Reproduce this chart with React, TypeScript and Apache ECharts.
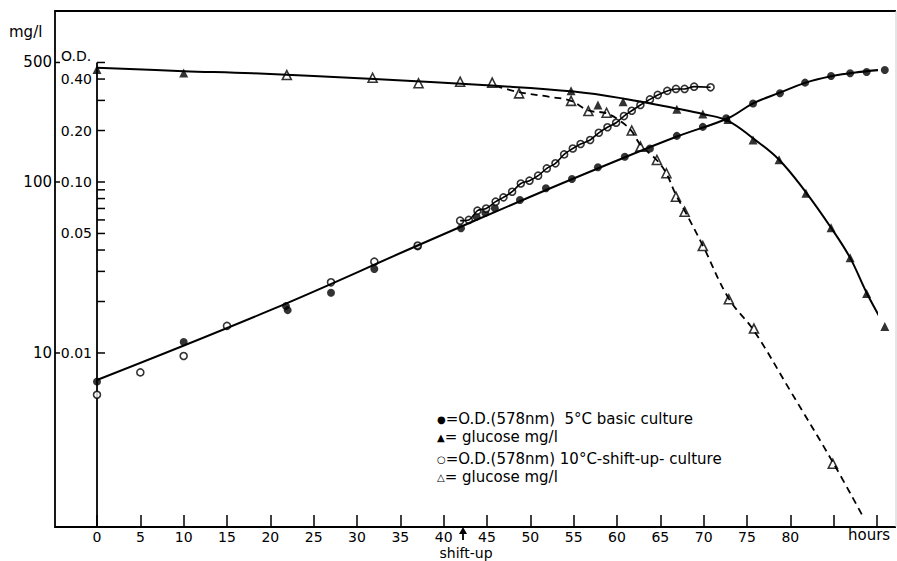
import React, { useEffect, useRef } from "react";
import * as echarts from "echarts";

const FONT = '"DejaVu Sans", "Liberation Sans", sans-serif';

// ---- axes ----
const X_MIN = 0;
const X_MAX = 90;
const X_STEP = 5;
const X_LAST_LABEL = 80;
const MG_MIN = 0.96;
const MG_MAX = 1000;
const OD_MIN = 0.00096;
const OD_MAX = 1;
const OD_TICKS = [0.5, 0.4, 0.3, 0.2, 0.1, 0.09, 0.08, 0.07, 0.06, 0.05, 0.04, 0.03, 0.02, 0.01];
const OD_LABELS = [0.4, 0.2, 0.1, 0.05, 0.01];
const MG_TICKS = [500, 100, 10];

// ---- measured points: [hours, value] ----
// O.D.(578nm) 5°C basic culture (filled circles)
const basicOD: [number, number][] = [
  [0, 0.0068], [10, 0.0116], [21.8, 0.0188], [22, 0.0178], [27, 0.0225], [32, 0.031],
  [37, 0.042], [42, 0.0536], [43.8, 0.0627], [44.8, 0.066], [45.9, 0.0702], [48.8, 0.0785],
  [51.8, 0.0919], [54.8, 0.104], [57.8, 0.122], [60.9, 0.1406], [63.8, 0.157], [66.9, 0.186],
  [69.9, 0.21], [72.6, 0.236], [75.7, 0.288], [78.8, 0.33], [81.7, 0.381], [84.7, 0.417],
  [86.9, 0.432], [88.8, 0.44], [90.9, 0.452],
];
// glucose mg/l, basic culture (filled triangles)
const basicGlucose: [number, number][] = [
  [0, 455], [10, 434], [54.7, 342], [57.8, 282], [60.7, 295], [66.9, 266], [69.9, 250],
  [72.8, 232], [75.7, 176], [78.7, 135], [81.8, 86], [84.7, 54], [86.9, 36], [88.8, 22.3],
  [90.9, 14.3],
];
// O.D.(578nm) 10°C shift-up culture (open circles)
const shiftOD: [number, number][] = [
  [0, 0.0057], [5, 0.0077], [10, 0.0096], [15, 0.0144], [27, 0.0259], [32, 0.0342],
  [37, 0.0425], [41.9, 0.0594], [42.9, 0.06], [43.9, 0.068], [44.9, 0.07], [46, 0.0767],
  [46.9, 0.0813], [47.9, 0.0877], [48.9, 0.098], [49.9, 0.1018], [50.9, 0.1089], [51.9, 0.12],
  [52.9, 0.1286], [53.9, 0.145], [54.9, 0.157], [55.8, 0.1668], [56.9, 0.176], [57.9, 0.194],
  [58.9, 0.209], [59.9, 0.222], [60.8, 0.243], [61.7, 0.261], [62.7, 0.282], [63.8, 0.304],
  [64.7, 0.323], [65.8, 0.341], [66.8, 0.35], [67.8, 0.35], [68.9, 0.361], [70.8, 0.358],
];
// glucose mg/l, shift-up culture (open triangles)
const shiftGlucose: [number, number][] = [
  [21.9, 422], [31.8, 407], [37.1, 378], [41.9, 386], [45.6, 381], [48.7, 330], [54.7, 298],
  [56.7, 260], [58.8, 254], [61.7, 200], [62.7, 161], [64.6, 134.5], [65.7, 112.5], [66.8, 82],
  [67.8, 67], [69.9, 42.2], [72.9, 20.6], [75.8, 13.9], [84.9, 2.25],
];

// ---- drawn curves ----
const basicODCurve: [number, number][] = [
  [0, 0.00695], [20, 0.0178], [37, 0.0425], [50, 0.082], [61, 0.14], [67, 0.185],
  [72.8, 0.236], [75.7, 0.288], [78.8, 0.333], [81.7, 0.38], [84.7, 0.415], [87.5, 0.437],
  [91, 0.455],
];
const basicGlucoseCurve: [number, number][] = [
  [0, 465], [10, 445], [18, 432], [32, 400], [46, 365], [55, 338], [61, 306], [67, 268],
  [70, 249], [72.8, 228], [75.7, 180], [78.7, 135], [81.8, 87], [84.7, 54], [86.9, 36],
  [88.8, 22.5], [90.9, 14.3], [91.8, 11.8],
];
const shiftGlucoseCurve: [number, number][] = [
  [46, 365], [48.7, 335], [52.2, 315], [54.7, 298], [56.7, 262], [58.8, 252], [60.5, 225],
  [61.7, 198], [62.7, 165], [64.6, 134], [65.7, 112], [66.8, 84], [67.8, 68], [69.9, 42.5],
  [72.9, 20.8], [75.8, 13.5], [80, 6.0], [84.9, 2.3], [88.4, 1.1],
];
const SHIFT_CURVE_START = 41.9;

const App: React.FC = () => {
  const ref = useRef<HTMLDivElement>(null);

  useEffect(() => {
    if (!ref.current) return;
    const chart = echarts.init(ref.current, undefined, { renderer: "svg" });
    const black = "#000";
    const lineW = 2;

    const odAxisData = OD_TICKS.map((v) => [0, v, OD_LABELS.includes(v) ? 1 : 0]);
    const mgAxisData = MG_TICKS.map((v) => [0, v]);

    const legendText = (x: number, y: number, text: string) => ({
      type: "text",
      x,
      y,
      style: {
        text,
        rich: { s: { fontSize: 10, lineHeight: 14, fontFamily: FONT, fill: black } },
        fill: black,
        fontSize: 15,
        lineHeight: 14,
        fontFamily: FONT,
        verticalAlign: "middle",
        textVerticalAlign: "middle",
      },
    });

    const option: any = {
      animation: false,
      backgroundColor: "#fff",
      grid: { left: 97, right: 20, top: 11, bottom: 34, containLabel: false, outerBoundsMode: "none" },
      xAxis: {
        type: "value",
        min: X_MIN,
        max: X_MAX,
        interval: X_STEP,
        axisLine: { show: false },
        splitLine: { show: false },
        axisTick: { inside: true, length: 12, lineStyle: { color: black, width: 1.5 } },
        axisLabel: {
          formatter: (v: number) => (v > X_LAST_LABEL ? "" : String(v)),
          color: black,
          fontSize: 14,
          lineHeight: 14,
          fontFamily: FONT,
          margin: 3,
          showMinLabel: true,
          showMaxLabel: true,
        },
      },
      yAxis: [
        { type: "log", min: MG_MIN, max: MG_MAX, show: false },
        { type: "log", min: OD_MIN, max: OD_MAX, show: false },
      ],
      series: [
        {
          type: "line", yAxisIndex: 1, data: basicODCurve, smooth: 0.4, showSymbol: false,
          lineStyle: { color: black, width: lineW }, clip: false, silent: true,
        },
        {
          type: "line", yAxisIndex: 0, data: basicGlucoseCurve, smooth: 0.4, showSymbol: false,
          lineStyle: { color: black, width: lineW }, clip: false, silent: true,
        },
        {
          type: "line", yAxisIndex: 0, data: shiftGlucoseCurve, smooth: 0.4, showSymbol: false,
          lineStyle: { color: black, width: 1.8, type: [7, 5] }, clip: false, silent: true,
        },
        {
          type: "line", yAxisIndex: 1, data: shiftOD.filter((d) => d[0] >= SHIFT_CURVE_START),
          smooth: 0.3, showSymbol: false, lineStyle: { color: black, width: 1.6 }, clip: false, silent: true,
        },
        {
          type: "scatter", yAxisIndex: 1, data: basicOD, symbol: "circle", symbolSize: 8,
          itemStyle: { color: black }, clip: false, silent: true,
        },
        {
          type: "scatter", yAxisIndex: 1, data: shiftOD, symbol: "circle", symbolSize: 7,
          itemStyle: { color: "#fff", borderColor: black, borderWidth: 1.6 }, clip: false, silent: true,
        },
        {
          type: "scatter", yAxisIndex: 0, data: basicGlucose, symbol: "triangle", symbolSize: 9,
          itemStyle: { color: black }, clip: false, silent: true,
        },
        {
          type: "scatter", yAxisIndex: 0, data: shiftGlucose, symbol: "triangle", symbolSize: 9,
          itemStyle: { color: "#fff", borderColor: black, borderWidth: 1.6 }, clip: false, silent: true,
        },
        {
          type: "custom", yAxisIndex: 1, data: odAxisData, silent: true, clip: false,
          renderItem: (params: any, api: any) => {
            const v = api.value(1);
            const p = api.coord([0, v]);
            const children: any[] = [
              { type: "line", shape: { x1: p[0], y1: p[1], x2: p[0] + 8, y2: p[1] }, style: { stroke: black, lineWidth: 1.5 } },
            ];
            if (api.value(2)) {
              children.push({
                type: "text",
                x: p[0] - 5,
                y: p[1],
                style: { text: v.toFixed(2), fill: black, fontSize: 14, fontFamily: FONT, align: "right", verticalAlign: "middle", textAlign: "right", textVerticalAlign: "middle" },
              });
            }
            if (params.dataIndex === 0) {
              children.push({
                type: "line",
                shape: { x1: p[0], y1: p[1], x2: p[0], y2: params.coordSys.y + params.coordSys.height },
                style: { stroke: black, lineWidth: 1.8 },
              });
            }
            return { type: "group", children };
          },
        },
        {
          type: "custom", yAxisIndex: 0, data: mgAxisData, silent: true, clip: false,
          renderItem: (params: any, api: any) => {
            const v = api.value(1);
            const p = api.coord([0, v]);
            const ox = params.coordSys.x - 42;
            return {
              type: "group",
              children: [
                { type: "line", shape: { x1: ox, y1: p[1], x2: ox + 5, y2: p[1] }, style: { stroke: black, lineWidth: 1.5 } },
                {
                  type: "text", x: ox - 3, y: p[1],
                  style: { text: String(v), fill: black, fontSize: 15, fontFamily: FONT, align: "right", verticalAlign: "middle", textAlign: "right", textVerticalAlign: "middle" },
                },
              ],
            };
          },
        },
      ],
      graphic: [
        { type: "polyline", shape: { points: [[896, 11], [55, 11], [55, 527], [896, 527]] }, style: { stroke: black, lineWidth: 1.8, fill: "none" }, silent: true },
        { type: "line", shape: { x1: 896, y1: 11, x2: 896, y2: 527 }, style: { stroke: "#ccc", lineWidth: 1 }, silent: true },
        { type: "text", x: 9, y: 32, style: { text: "mg/l", fill: black, fontSize: 15, fontFamily: FONT, verticalAlign: "middle", textVerticalAlign: "middle" } },
        { type: "text", x: 61, y: 56, style: { text: "O.D.", fill: black, fontSize: 14, fontFamily: FONT, verticalAlign: "middle", textVerticalAlign: "middle" } },
        { type: "text", x: 848, y: 535, style: { text: "hours", fill: black, fontSize: 15, lineHeight: 14, fontFamily: FONT, verticalAlign: "middle", textVerticalAlign: "middle" } },
        { type: "polygon", shape: { points: [[463, 527], [459, 534], [467, 534]] }, style: { fill: black }, silent: true },
        { type: "line", shape: { x1: 463, y1: 532, x2: 463, y2: 540 }, style: { stroke: black, lineWidth: 1.8 }, silent: true },
        { type: "text", x: 466, y: 553, style: { text: "shift-up", fill: black, fontSize: 14, lineHeight: 13, fontFamily: FONT, align: "center", verticalAlign: "middle", textAlign: "center", textVerticalAlign: "middle" } },
        legendText(437, 419, "{s|●}=O.D.(578nm)  5°C basic culture"),
        legendText(437, 437, "{s|▲}= glucose mg/l"),
        legendText(437, 459, "{s|○}=O.D.(578nm) 10°C-shift-up- culture"),
        legendText(437, 477, "{s|△}= glucose mg/l"),
      ],
    };

    chart.setOption(option);
    return () => chart.dispose();
  }, []);

  return (
    <div
      ref={ref}
      style={{ position: "fixed", left: 0, top: 0, width: 897, height: 561, background: "#fff" }}
    />
  );
};

export default App;
